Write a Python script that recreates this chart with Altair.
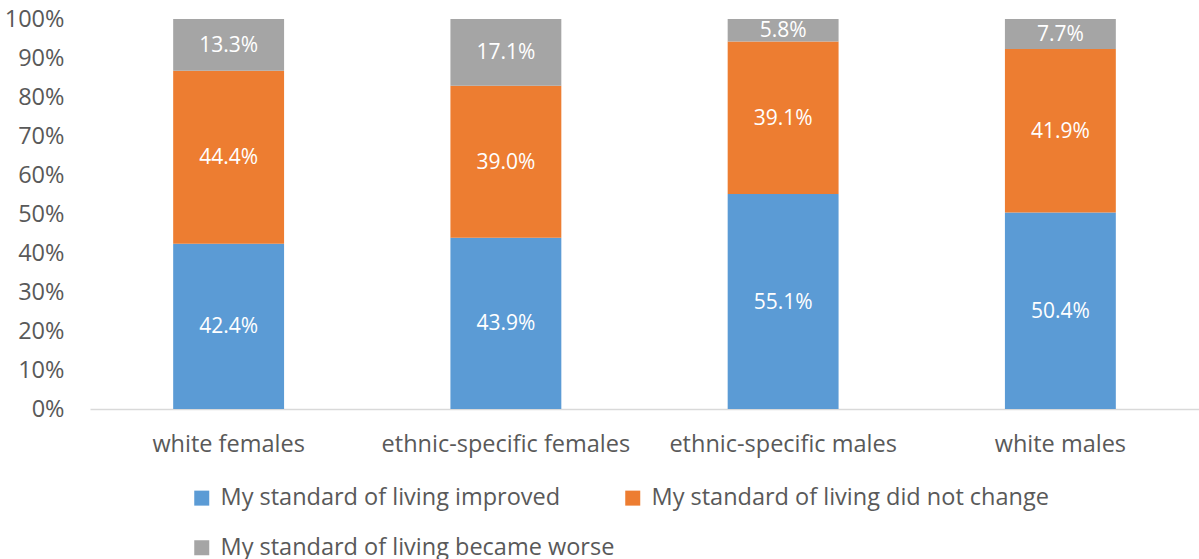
import altair as alt
import pandas as pd

categories = ["white females", "ethnic-specific females", "ethnic-specific males", "white males"]
series = ["My standard of living improved", "My standard of living did not change", "My standard of living became worse"]
improved = [42.4, 43.9, 55.1, 50.4]
no_change = [44.4, 39.0, 39.1, 41.9]
worse = [13.3, 17.1, 5.8, 7.7]
colors = ["#5B9BD5", "#ED7D31", "#A5A5A5"]

rows = []
for i, c in enumerate(categories):
    for j, (s, vals) in enumerate(zip(series, [improved, no_change, worse])):
        rows.append({"cat": c, "series": s, "order": j, "value": vals[i],
                     "label": f"{vals[i]:.1f}%"})
df = pd.DataFrame(rows)

FONT = "Open Sans"
FS = 23.5
FS_BAR = 21

x_axis = alt.Axis(labelAngle=0, labelFont=FONT, labelFontSize=FS, labelColor="#595959",
                  labelLimit=400, labelOverlap=False,
                  domainColor="#D9D9D9", domainWidth=1.5, ticks=False, labelPadding=23)
y_axis = alt.Axis(format=".0%", values=[i / 10 for i in range(11)], grid=False, domain=False,
                  ticks=False, labelFont=FONT, labelFontSize=FS, labelColor="#595959",
                  labelOverlap=False, labelPadding=26)
x_scale = alt.Scale(paddingInner=0.6, paddingOuter=0.3)
y_scale = alt.Scale(domain=[0, 1], nice=False)

base = alt.Chart(df)

bars = base.mark_bar().encode(
    x=alt.X("cat:N", sort=categories, title=None, scale=x_scale, axis=x_axis),
    y=alt.Y("value:Q", stack="normalize", title=None, scale=y_scale, axis=y_axis),
    color=alt.Color("series:N", sort=series,
                    scale=alt.Scale(domain=series, range=colors),
                    legend=alt.Legend(title=None, orient="none", legendX=100, legendY=467,
                                      values=[series[0], series[2], series[1]],
                                      columns=2, columnPadding=6, rowPadding=25,
                                      symbolType="square", symbolSize=225, symbolStrokeWidth=0,
                                      labelFont=FONT, labelFontSize=FS, labelColor="#595959",
                                      labelOffset=7, labelLimit=600)),
    order=alt.Order("order:Q"),
)

texts = base.transform_stack(
    stack="value", groupby=["cat"], as_=["y0", "y1"], offset="normalize",
    sort=[alt.SortField("order", order="ascending")]
).transform_calculate(
    mid="(datum.y0 + datum.y1) / 2"
).mark_text(font=FONT, fontSize=FS_BAR, color="white", dy=1).encode(
    x=alt.X("cat:N", sort=categories, title=None, scale=x_scale, axis=x_axis),
    y=alt.Y("mid:Q", title=None, scale=y_scale, axis=y_axis),
    text="label:N",
)

chart = alt.layer(bars, texts).properties(
    width=1109, height=390,
    background="white",
    autosize=alt.AutoSizeParams(type="none"),
    padding={"left": 90, "top": 19, "right": 0, "bottom": 150},
).configure_view(stroke="transparent", strokeWidth=0)

chart.save("out.html", embed_options={"renderer": "svg", "actions": False})
